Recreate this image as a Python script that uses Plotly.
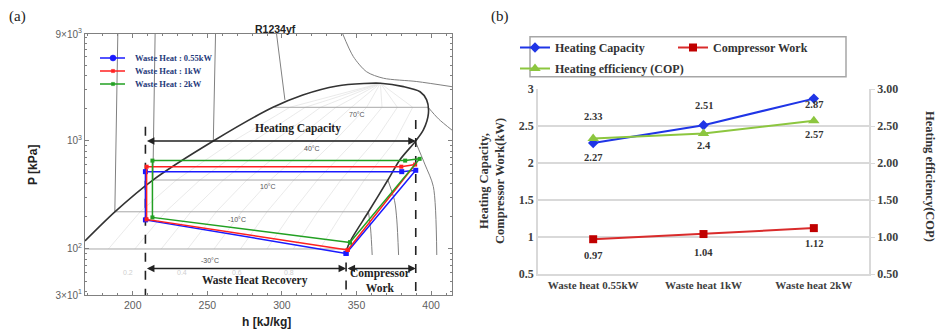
import numpy as np
import plotly.graph_objects as go

# ------------------------------------------------------------------
# DATA  -- panel (a): P-h diagram of R1234yf with three heat-pump cycles
# ------------------------------------------------------------------
CYCLE_NAMES = ["Waste Heat : 0.55kW", "Waste Heat : 1kW", "Waste Heat : 2kW"]
# state points: comp. inlet -> comp. outlet -> sat. vapour -> cond. outlet -> exp. outlet -> comp. inlet
BLUE_H = [343.0, 389.7, 380.3, 208.5, 208.5, 343.0]
BLUE_P = [91, 535, 520, 520, 186, 91]
RED_H = [344.1, 389.3, 380.0, 209.3, 209.3, 344.1]
RED_P = [98, 605, 578, 578, 188, 98]
GREEN_H = [345.6, 392.3, 382.6, 213.2, 213.2, 345.6]
GREEN_P = [115, 683, 658, 658, 196, 115]

# saturation dome
DOME_H = [168, 188, 213.5, 254, 294, 314, 337, 355, 366, 381.5, 392.6, 397, 398.2, 394.8, 389.3, 379, 371, 358, 345.6, 343]
DOME_P = [119, 221, 435, 1000, 2050, 2667, 3230, 3400, 3420, 3185, 2855, 2400, 1800, 1265, 985, 667, 435, 221, 117, 95]

# isotherms inside the dome
SAT_LABELS = ["-30°C", "-10°C", "10°C", "40°C", "70°C"]
SAT_P = [100, 221, 435, 1000, 2050]
SAT_HL = [166, 188, 213.5, 254, 295]
SAT_HV = [343, 358, 371, 389.3, 398]
SAT_LABEL_H = [251.7, 269.6, 290.8, 320, 350]
SAT_LABEL_P = [79, 186, 378, 855, 1740]
CRIT_H, CRIT_P = 366, 3420

# isotherms in the liquid region
LIQ_H = [[188, 190], [213.5, 215], [254, 255.5], [302, 296.4]]
LIQ_P = [[221, 9780], [435, 9780], [1000, 9780], [2400, 9780]]
# isotherms in the vapour region
VAP_H = [[358, 359.5, 360.5], [371, 375.5, 377, 378.2], [389.3, 396, 401.5, 403.8], [398, 405, 414]]
VAP_P = [[221, 150, 88], [435, 280, 186, 88], [1000, 600, 378, 88], [2050, 1600, 1260]]
# supercritical isotherm
SC_H = [340.5, 347.9, 356.8, 368, 390.4, 414]
SC_P = [10000, 6030, 4370, 3810, 3550, 3180]

# vapour quality lines
Q_VALUES = [0.1, 0.2, 0.3, 0.4, 0.5, 0.6, 0.7, 0.8, 0.9]
Q_LABELS = ["0.2", "0.4", "0.6", "0.8"]
Q_LABEL_H = [196.6, 232.7, 269.6, 305]
Q_LABEL_P = [60, 60, 60, 60]

# pressure axis as drawn in the reference (ends labelled 3×10¹ and 9×10³)
P_AXIS = [37.5, 9780]
P_TICKS = [37.5, 100, 1000, 9780]
P_TICKTEXT = ["3×10<sup>1</sup>", "10<sup>2</sup>", "10<sup>3</sup>", "9×10<sup>3</sup>"]

# ------------------------------------------------------------------
# DATA  -- panel (b)
# ------------------------------------------------------------------
CATS = ["Waste heat 0.55kW", "Waste heat 1kW", "Waste heat 2kW"]
HEATING_CAPACITY = [2.27, 2.51, 2.87]
COMPRESSOR_WORK = [0.97, 1.04, 1.12]
COP = [2.33, 2.40, 2.57]

# ------------------------------------------------------------------
W, H = 940, 333
def px(v): return v / W
def py(v): return 1 - v / H

SERIF = "Liberation Serif"
SANS = "Liberation Sans"
lg = np.log10

fig = go.Figure()

def bg(x, y, color, width, shape="linear", dash=None):
    fig.add_trace(go.Scatter(x=x, y=y, mode="lines", xaxis="x", yaxis="y",
                             line=dict(color=color, width=width, shape=shape, dash=dash, smoothing=0.8),
                             showlegend=False, hoverinfo="skip"))

# quality lines (faint)
for q in Q_VALUES:
    hs = [hl + q * (hv - hl) for hl, hv in zip(SAT_HL, SAT_HV)] + [CRIT_H]
    bg(hs, SAT_P + [CRIT_P], "#e4e4e4", 0.8)
# horizontal isotherms
for hl, hv, p in zip(SAT_HL, SAT_HV, SAT_P):
    bg([hl, hv], [p, p], "#a8a8a8", 1)
for hh, pp in zip(LIQ_H, LIQ_P):
    bg(hh, pp, "#808080", 1)
for hh, pp in zip(VAP_H, VAP_P):
    bg(hh, pp, "#808080", 1, shape="spline")
bg(SC_H, SC_P, "#808080", 1, shape="spline")
# saturation dome
bg(DOME_H, DOME_P, "#333333", 1.6, shape="spline")

# dashed guide lines at the state points of the first cycle
P_MIN = P_AXIS[0]
for h, ptop in [(BLUE_H[3], 1356), (BLUE_H[0], 75), (BLUE_H[1], 1565)]:
    bg([h, h], [ptop, P_MIN], "#222222", 1.6, dash="dash")

# cycles
for name, hh, pp, col, msz in [
    (CYCLE_NAMES[0], BLUE_H, BLUE_P, "#1a1aff", 5),
    (CYCLE_NAMES[1], RED_H, RED_P, "#ff2020", 4),
    (CYCLE_NAMES[2], GREEN_H, GREEN_P, "#22a022", 4),
]:
    fig.add_trace(go.Scatter(x=hh, y=pp, mode="lines+markers", name=name, xaxis="x", yaxis="y",
                             line=dict(color=col, width=1.5),
                             marker=dict(color=col, size=msz, symbol="square"),
                             showlegend=False))

annotations = []
shapes = []

def note(x, y, text, font, **kw):
    d = dict(x=px(x), y=py(y), xref="paper", yref="paper", text=text, showarrow=False,
             xanchor="center", yanchor="middle", font=font)
    d.update(kw)
    annotations.append(d)

# isotherm labels
for t, h, p in zip(SAT_LABELS, SAT_LABEL_H, SAT_LABEL_P):
    annotations.append(dict(x=h, y=lg(p), xref="x", yref="y", text=t, showarrow=False,
                            font=dict(family=SANS, size=7, color="#555555")))
for t, h, p in zip(Q_LABELS, Q_LABEL_H, Q_LABEL_P):
    annotations.append(dict(x=h, y=lg(p), xref="x", yref="y", text=t, showarrow=False,
                            font=dict(family=SANS, size=7, color="#cfcfcf")))

# arrows
P_ARROW_TOP, P_ARROW_BOT = 1000, 66
for x0, x1, p in [(BLUE_H[3], BLUE_H[1], P_ARROW_TOP), (BLUE_H[3], BLUE_H[0], P_ARROW_BOT),
                  (BLUE_H[0], BLUE_H[1], P_ARROW_BOT)]:
    annotations.append(dict(x=x1, y=lg(p), ax=x0, ay=lg(p), xref="x", yref="y", axref="x", ayref="y",
                            text="", showarrow=True, arrowhead=2, arrowside="end+start",
                            arrowsize=1, arrowwidth=1.5, arrowcolor="#222222"))
txtfont = dict(family=SERIF, size=11.5, color="#222222", weight="bold")
annotations.append(dict(x=311, y=lg(1312), xref="x", yref="y", text="Heating Capacity", showarrow=False, font=txtfont))
annotations.append(dict(x=282, y=lg(51), xref="x", yref="y", text="Waste Heat Recovery", showarrow=False, font=txtfont))
annotations.append(dict(x=366, y=lg(51), xref="x", yref="y", text="Compressor<br>Work", showarrow=False,
                        font=txtfont))

# manual legend of panel (a)
leg_cols = ["#1a1aff", "#ff2020", "#22a022"]
for i, (name, col) in enumerate(zip(CYCLE_NAMES, leg_cols)):
    yy = 58 + 13 * i
    shapes.append(dict(type="line", xref="paper", yref="paper", x0=px(100), x1=px(125), y0=py(yy), y1=py(yy),
                       line=dict(color=col, width=1.5)))
    r = 3 if i == 0 else 1.6
    shapes.append(dict(type="circle" if i == 0 else "rect", xref="paper", yref="paper",
                       x0=px(113 - r), x1=px(113 + r), y0=py(yy + r), y1=py(yy - r),
                       fillcolor=col, line=dict(color=col, width=0.5)))
    note(133, yy, name, dict(family=SERIF, size=8.5, color="#1F3A7A", weight="bold"), xanchor="left")

# titles of panel (a) and panel letters
note(275, 29, "R1234yf", dict(family=SANS, size=10.5, color="#222222", weight="bold"))
note(266, 322, "h [kJ/kg]", dict(family=SANS, size=12, color="#222222", weight="bold"))
note(33, 165, "P [kPa]", dict(family=SANS, size=12, color="#222222", weight="bold"), textangle=-90)
note(17, 17, "(a)", dict(family=SERIF, size=15, color="#222222"))
note(500, 17, "(b)", dict(family=SERIF, size=15, color="#222222"))

# ------------------------------------------------------------------
# panel (b)
# ------------------------------------------------------------------
fig.add_trace(go.Scatter(x=CATS, y=HEATING_CAPACITY, name="Heating Capacity", xaxis="x2", yaxis="y2",
                         mode="lines+markers", line=dict(color="#1f35e6", width=2),
                         marker=dict(symbol="diamond", size=8, color="#1f35e6"), legend="legend"))
fig.add_trace(go.Scatter(x=CATS, y=COMPRESSOR_WORK, name="Compressor Work", xaxis="x2", yaxis="y2",
                         mode="lines+markers", line=dict(color="#d92b2b", width=2),
                         marker=dict(symbol="square", size=8, color="#c00000"), legend="legend2"))
fig.add_trace(go.Scatter(x=CATS, y=COP, name="Heating efficiency (COP)", xaxis="x2", yaxis="y3",
                         mode="lines+markers", line=dict(color="#8cc63f", width=2),
                         marker=dict(symbol="triangle-up", size=10, color="#8cc63f"), legend="legend3"))

lblfont = dict(family=SERIF, size=10.5, color="#333333", weight="bold")
HC_SHIFT = [-14, 20, -6]
CW_SHIFT = [-16, -18, -15]
COP_SHIFT = [22, -12, -14]
for vals, shifts, yref in [(HEATING_CAPACITY, HC_SHIFT, "y2"), (COMPRESSOR_WORK, CW_SHIFT, "y2"),
                           (COP, COP_SHIFT, "y3")]:
    for c, v, s in zip(CATS, vals, shifts):
        annotations.append(dict(x=c, y=v, xref="x2", yref=yref, text=f"{v:g}", showarrow=False,
                                yshift=s, font=lblfont))

note(492, 181, "Heating Capacity,<br>Compressor Work(kW)",
     dict(family=SERIF, size=12.5, color="#333333", weight="bold"), textangle=-90)
note(930, 176, "Heating efficiency(COP)",
     dict(family=SERIF, size=12.5, color="#333333", weight="bold"), textangle=90)
shapes.append(dict(type="rect", xref="paper", yref="paper", x0=px(530), x1=px(846), y0=py(76.7), y1=py(36.7),
                   line=dict(color="#a6a6a6", width=1.5), fillcolor="rgba(0,0,0,0)"))

legfont = dict(family=SERIF, size=12, color="#333333", weight="bold")
def legend_at(xp, yp):
    return dict(x=px(xp), y=py(yp), xanchor="left", yanchor="top", bgcolor="rgba(0,0,0,0)",
                borderwidth=0, font=legfont, itemwidth=30)

grey = "#808080"
fig.update_layout(
    width=W, height=H, template="none",
    margin=dict(l=0, r=0, t=0, b=0),
    paper_bgcolor="white", plot_bgcolor="white",
    showlegend=True,
    legend=legend_at(515, 33), legend2=legend_at(673, 33), legend3=legend_at(515, 54),
    xaxis=dict(domain=[px(85), px(452)], anchor="y", range=[168, 414], tickvals=[200, 250, 300, 350, 400],
               ticks="inside", ticklen=4, tickcolor=grey, mirror="allticks", showline=True, linecolor=grey,
               linewidth=1, showgrid=False, zeroline=False,
               tickfont=dict(family=SANS, size=10.5, color="#606060"),
               minor=dict(ticks="inside", ticklen=2, dtick=10, tickcolor=grey, showgrid=False)),
    yaxis=dict(domain=[py(295), py(34)], anchor="x", type="log", range=[lg(P_AXIS[0]), lg(P_AXIS[1])],
               tickvals=P_TICKS, ticktext=P_TICKTEXT,
               ticks="inside", ticklen=4, tickcolor=grey, mirror="allticks", showline=True, linecolor=grey,
               linewidth=1, showgrid=False, zeroline=False,
               tickfont=dict(family=SANS, size=10, color="#606060"),
               minor=dict(ticks="inside", ticklen=2, dtick="D1", tickcolor=grey, showgrid=False)),
    xaxis2=dict(domain=[px(538), px(869)], anchor="y2", type="category", range=[-0.5, 2.5],
                showline=True, linecolor="#d9d9d9",
                linewidth=1.5, ticks="", showgrid=False, zeroline=False,
                tickfont=dict(family=SERIF, size=11, color="#404040", weight="bold")),
    yaxis2=dict(domain=[py(274), py(89)], anchor="x2", range=[0.5, 3], dtick=0.5, showgrid=True,
                gridcolor="#d9d9d9", gridwidth=1.5, showline=True, linecolor="#d9d9d9", linewidth=1.5,
                ticks="", zeroline=False,
                tickfont=dict(family=SERIF, size=12, color="#404040", weight="bold")),
    yaxis3=dict(overlaying="y2", side="right", anchor="x2", range=[0.5, 3], dtick=0.5, tickformat=".2f",
                showgrid=False, showline=True, linecolor="#d9d9d9", linewidth=1.5, ticks="outside",
                ticklen=4, tickcolor="#d9d9d9", zeroline=False,
                tickfont=dict(family=SERIF, size=12, color="#404040", weight="bold")),
    annotations=annotations,
    shapes=shapes,
)

fig.write_html("out.html", config={"displayModeBar": False},
               post_script="document.body.style.margin='0px';")
